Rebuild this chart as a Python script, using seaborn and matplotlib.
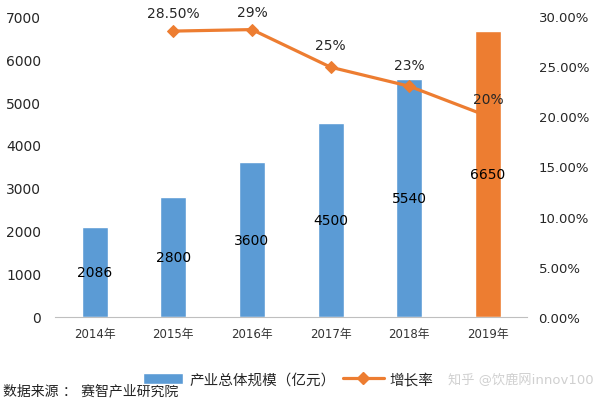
import numpy as np
import pandas as pd
import seaborn as sns
import matplotlib.pyplot as plt
from matplotlib.lines import Line2D
from matplotlib.patches import Patch

# data
years = ["2014年", "2015年", "2016年", "2017年", "2018年", "2019年"]
scale = [2086, 2800, 3600, 4500, 5540, 6650]
growth_years = ["2015年", "2016年", "2017年", "2018年", "2019年"]
growth = [28.5, 28.65, 24.9, 23.0, 20.0]
growth_labels = ["28.50%", "29%", "25%", "23%", "20%"]

blue = "#5B9BD5"
orange = "#ED7D31"

sns.set_style("white")
plt.rcParams['font.family'] = ['DejaVu Sans', 'Noto Sans CJK SC']

df = pd.DataFrame({"year": years, "scale": scale})

fig = plt.figure(figsize=(6, 4.06), dpi=100)
ax = fig.add_axes([0.092, 0.217, 0.787, 0.741])

colors = [blue] * 5 + [orange]
sns.barplot(data=df, x="year", y="scale", hue="year", palette=colors,
            width=0.33, legend=False, ax=ax, saturation=1)
for i, v in enumerate(scale):
    ax.text(i, v / 2, str(v), ha="center", va="center", fontsize=10, color="black")

ax.set_ylim(0, 7000)
ax.set_yticks(range(0, 7001, 1000))
ax.set_xlim(-0.5, 5.5)
ax.set_xlabel("")
ax.set_ylabel("")
ax.tick_params(axis="y", labelsize=10, length=0, pad=10)
ax.tick_params(axis="x", labelsize=8.5, length=0, pad=7, colors="#333333")
for s in ["top", "right", "left"]:
    ax.spines[s].set_visible(False)
ax.spines["bottom"].set_color("#BFBFBF")

ax2 = ax.twinx()
gx = [years.index(y) for y in growth_years]
sns.lineplot(x=gx, y=growth, ax=ax2, color=orange, linewidth=2.3,
             marker="D", markersize=6, markeredgecolor=orange)
offsets = [1.8, 1.8, 2.2, 2.1, 1.7]
for x, y, lab, off in zip(gx, growth, growth_labels, offsets):
    ax2.text(x, y + off, lab, ha="center", va="center", fontsize=10)
ax2.set_ylim(0, 30)
ax2.set_yticks(np.arange(0, 30.1, 5))
ax2.set_yticklabels([f"{t:.2f}%" for t in np.arange(0, 30.1, 5)])
ax2.tick_params(axis="y", labelsize=9.5, length=0, pad=8)
for s in ["top", "right", "left", "bottom"]:
    ax2.spines[s].set_visible(False)
ax2.set_xlim(-0.5, 5.5)

handles = [Patch(facecolor=blue, label="产业总体规模（亿元）"),
           Line2D([0], [0], color=orange, lw=2.3, marker="D", markersize=6, label="增长率")]
fig.legend(handles=handles, loc="center", bbox_to_anchor=(0.48, 0.064), ncol=2,
           frameon=False, fontsize=10.5, handlelength=2.8, columnspacing=0.5, handletextpad=0.4)

fig.text(0.005, 0.036, "数据来源 ： 赛智产业研究院", fontsize=10, va="center", color="#222222")
fig.text(0.99, 0.064, "知乎 @饮鹿网innov100", fontsize=9.5, ha="right", va="center", color="#D0D0D0")

fig.savefig("out.png", dpi=100)
